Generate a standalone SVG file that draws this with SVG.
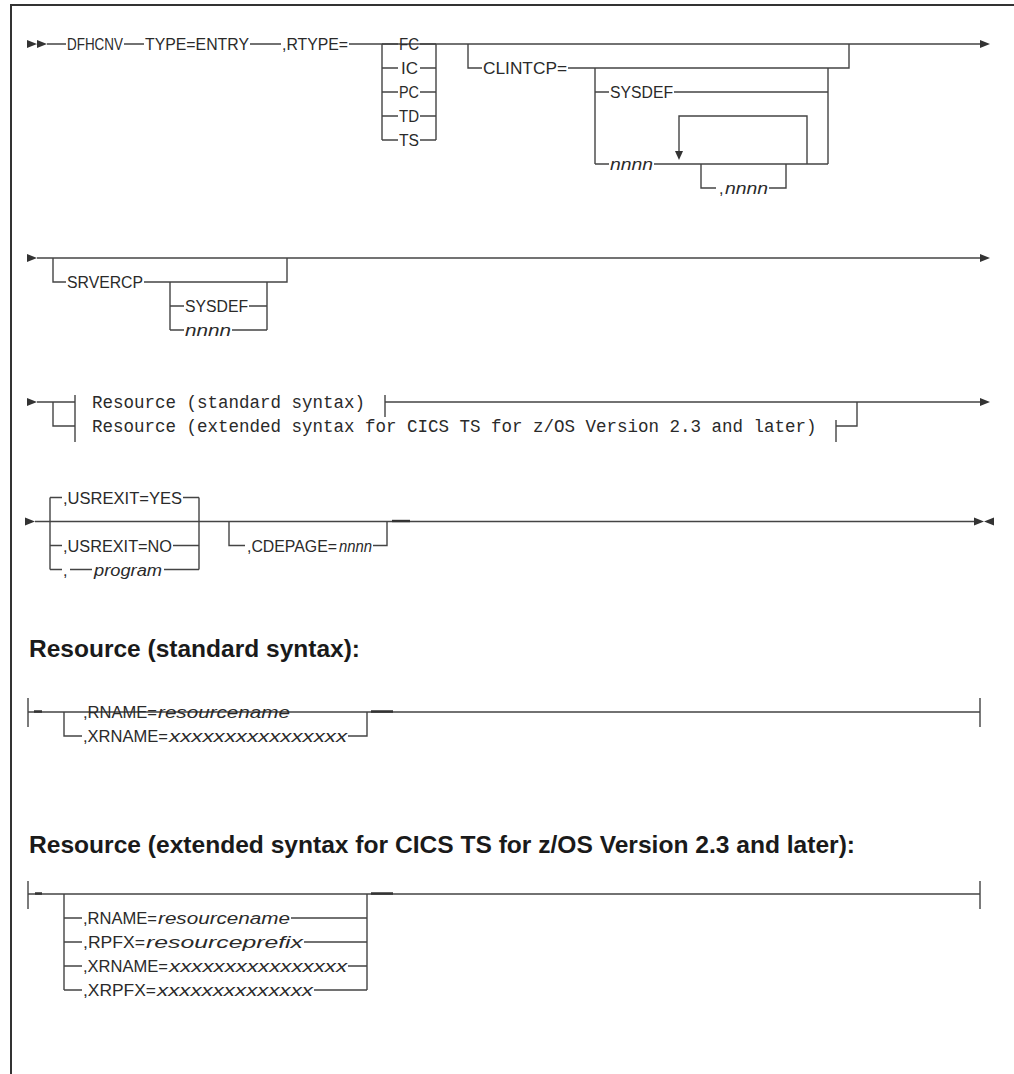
<svg xmlns="http://www.w3.org/2000/svg" width="1014" height="1074" viewBox="0 0 1014 1074">
<style>
.ln{stroke:#444;stroke-width:1.4;fill:none}
.dk{stroke:#333;stroke-width:2.4;fill:none}
.bd{stroke:#333;stroke-width:2;fill:none}
.ah{fill:#333;stroke:none}
.t{font-family:"Liberation Sans Narrow","Liberation Sans",Arial,sans-serif;font-size:16px;fill:#2a2a2a}
.i{font-style:italic}
.m{font-family:"Liberation Mono","DejaVu Sans Mono",monospace;font-size:17.5px;fill:#2a2a2a}
.h{font-family:"Liberation Sans",Arial,sans-serif;font-size:24.5px;font-weight:bold;fill:#1a1a1a}
</style>
<rect width="1014" height="1074" fill="#fff"/>
<path class="bd" d="M1014,5 H11 V1074"/>

<g id="connectors">
<path class="ah" d="M27,40 L37,44 L27,48 Z M37,40 L47,44 L37,48 Z"/>
<path class="ln" d="M47,44 H66 M124,44 H144 M250,44 H281 M349,44 H980"/>
<path class="ah" d="M980,40 L990,44 L980,48 Z"/>
<path class="ln" d="M382,44 V140 M436,44 V140 M382,44 H398 M420,44 H436 M382,68 H398 M420,68 H436 M382,92 H398 M420,92 H436 M382,116 H398 M420,116 H436 M382,140 H398 M420,140 H436"/>
<path class="ln" d="M468,44 V68 H482 M568,68 H849 V44"/>
<path class="ln" d="M595,68 V164 M828,68 V164 M595,92 H609 M674,92 H828 M595,164 H609 M654,164 H828"/>
<path class="ln" d="M807,164 V116 H679 V152"/>
<path class="ah" d="M675,151 L683,151 L679,160 Z"/>
<path class="ln" d="M701,164 V188 H716 M769,188 H786 V164"/>
<path class="ah" d="M27,254 L37,258 L27,262 Z"/>
<path class="ln" d="M37,258 H980"/>
<path class="ah" d="M980,254 L990,258 L980,262 Z"/>
<path class="ln" d="M53,258 V282 H66 M144,282 H287 V258"/>
<path class="ln" d="M170,282 V330 M267,282 V330 M170,306 H184 M249,306 H267 M170,330 H184 M232,330 H267"/>
<path class="ah" d="M27,398 L37,402 L27,406 Z"/>
<path class="ln" d="M37,402 H75 M53,402 V426 H75 M75,395 V442"/>
<path class="ln" d="M385,395 V417 M385,402 H980"/>
<path class="ah" d="M980,398 L990,402 L980,406 Z"/>
<path class="ln" d="M836,420 V442 M836,426 H857 V402"/>
<path class="ah" d="M25,517.5 L35,521.5 L25,525.5 Z"/>
<path class="ln" d="M35,521.5 H974"/>
<path class="dk" d="M392,521 H410"/>
<path class="ah" d="M974,517.5 L984,521.5 L974,525.5 Z M994,517.5 L984,521.5 L994,525.5 Z"/>
<path class="ln" d="M50,497.5 V569.5 M199,497.5 V569.5 M50,497.5 H62 M183,497.5 H199 M50,545.5 H62 M173,545.5 H199 M50,569.5 H62 M70,569.5 H92 M164,569.5 H199"/>
<path class="ln" d="M229,521.5 V545.5 H245 M373,545.5 H387 V521.5"/>
<path class="ln" d="M28,698 V727 M28,712 H980 M980,698 V727"/>
<path class="dk" d="M34,711.5 H42 M371,711.5 H393"/>
<path class="ln" d="M64,712 V736 H82 M348,736 H367 V712"/>
<path class="ln" d="M28,881 V909 M28,894 H980 M980,881 V909"/>
<path class="dk" d="M35,893.5 H42 M371,893.5 H393"/>
<path class="ln" d="M64,894 V990 M367,894 V990 M64,918 H82 M291,918 H367 M64,942 H82 M304,942 H367 M64,966 H82 M348,966 H367 M64,990 H82 M314,990 H367"/>
</g>

<g id="n-dfhcnv"><text class="t" x="67" y="50" textLength="56" lengthAdjust="spacingAndGlyphs">DFHCNV</text></g>
<g id="n-type"><text class="t" x="145" y="50" textLength="104" lengthAdjust="spacingAndGlyphs">TYPE=ENTRY</text></g>
<g id="n-rtype"><text class="t" x="282" y="50" textLength="66" lengthAdjust="spacingAndGlyphs">,RTYPE=</text></g>
<g id="n-rtype-opts">
<text class="t" x="399" y="50" textLength="20" lengthAdjust="spacingAndGlyphs">FC</text>
<text class="t" x="401" y="74" textLength="17" lengthAdjust="spacingAndGlyphs">IC</text>
<text class="t" x="399" y="98" textLength="20" lengthAdjust="spacingAndGlyphs">PC</text>
<text class="t" x="399" y="122" textLength="20" lengthAdjust="spacingAndGlyphs">TD</text>
<text class="t" x="399" y="146" textLength="20" lengthAdjust="spacingAndGlyphs">TS</text>
</g>
<g id="n-clintcp"><text class="t" x="483" y="74" textLength="84" lengthAdjust="spacingAndGlyphs">CLINTCP=</text></g>
<g id="n-clintcp-sysdef"><text class="t" x="610" y="98" textLength="63" lengthAdjust="spacingAndGlyphs">SYSDEF</text></g>
<g id="n-clintcp-nnnn"><text class="t i" x="610" y="170" textLength="43" lengthAdjust="spacingAndGlyphs">nnnn</text></g>
<g id="n-clintcp-more"><text class="t" x="719" y="194">,</text><text class="t i" x="725" y="194" textLength="43" lengthAdjust="spacingAndGlyphs">nnnn</text></g>

<g id="n-srvercp"><text class="t" x="67" y="288" textLength="76" lengthAdjust="spacingAndGlyphs">SRVERCP</text></g>
<g id="n-srvercp-sysdef"><text class="t" x="185" y="312" textLength="63" lengthAdjust="spacingAndGlyphs">SYSDEF</text></g>
<g id="n-srvercp-nnnn"><text class="t i" x="185" y="336" textLength="46" lengthAdjust="spacingAndGlyphs">nnnn</text></g>

<g id="n-res-std-ref"><text class="m" x="92" y="407.5">Resource (standard syntax)</text></g>
<g id="n-res-ext-ref"><text class="m" x="92" y="431.5">Resource (extended syntax for CICS TS for z/OS Version 2.3 and later)</text></g>

<g id="n-usrexit-yes"><text class="t" x="63" y="503.5" textLength="119" lengthAdjust="spacingAndGlyphs">,USREXIT=YES</text></g>
<g id="n-usrexit-no"><text class="t" x="63" y="551.5" textLength="109" lengthAdjust="spacingAndGlyphs">,USREXIT=NO</text></g>
<g id="n-usrexit-prog"><text class="t" x="63" y="575.5">,</text><text class="t i" x="94" y="575.5" textLength="68" lengthAdjust="spacingAndGlyphs">program</text></g>
<g id="n-cdepage"><text class="t" x="247" y="551.5" textLength="90" lengthAdjust="spacingAndGlyphs">,CDEPAGE=</text><text class="t i" x="339" y="551.5" textLength="33" lengthAdjust="spacingAndGlyphs">nnnn</text></g>

<g id="h-std"><text class="h" x="29" y="657" textLength="331" lengthAdjust="spacingAndGlyphs">Resource (standard syntax):</text></g>
<g id="n-std-rname"><text class="t" x="83" y="718" textLength="74" lengthAdjust="spacingAndGlyphs">,RNAME=</text><text class="t i" x="158" y="718" textLength="132" lengthAdjust="spacingAndGlyphs">resourcename</text></g>
<g id="n-std-xrname"><text class="t" x="83" y="742" textLength="85" lengthAdjust="spacingAndGlyphs">,XRNAME=</text><text class="t i" x="169" y="742" textLength="178" lengthAdjust="spacingAndGlyphs">xxxxxxxxxxxxxxxx</text></g>

<g id="h-ext"><text class="h" x="29" y="853" textLength="826" lengthAdjust="spacingAndGlyphs">Resource (extended syntax for CICS TS for z/OS Version 2.3 and later):</text></g>
<g id="n-ext-rname"><text class="t" x="83" y="924" textLength="74" lengthAdjust="spacingAndGlyphs">,RNAME=</text><text class="t i" x="158" y="924" textLength="132" lengthAdjust="spacingAndGlyphs">resourcename</text></g>
<g id="n-ext-rpfx"><text class="t" x="83" y="948" textLength="62" lengthAdjust="spacingAndGlyphs">,RPFX=</text><text class="t i" x="146" y="948" textLength="157" lengthAdjust="spacingAndGlyphs">resourceprefix</text></g>
<g id="n-ext-xrname"><text class="t" x="83" y="972" textLength="85" lengthAdjust="spacingAndGlyphs">,XRNAME=</text><text class="t i" x="169" y="972" textLength="178" lengthAdjust="spacingAndGlyphs">xxxxxxxxxxxxxxxx</text></g>
<g id="n-ext-xrpfx"><text class="t" x="83" y="996" textLength="73" lengthAdjust="spacingAndGlyphs">,XRPFX=</text><text class="t i" x="157" y="996" textLength="156" lengthAdjust="spacingAndGlyphs">xxxxxxxxxxxxxx</text></g>
</svg>
